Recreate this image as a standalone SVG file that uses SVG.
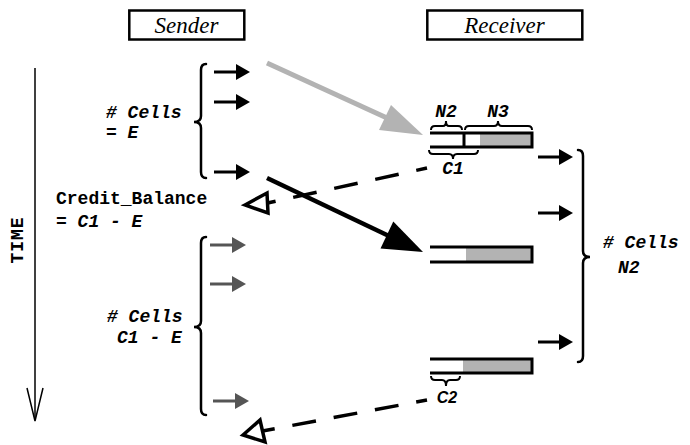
<svg xmlns="http://www.w3.org/2000/svg" width="690" height="445" viewBox="0 0 690 445">
<style>
.box{fill:#fff;stroke:#000;stroke-width:2.5}
.title{font-family:"Liberation Serif",serif;font-style:italic;font-size:23px;text-anchor:middle}
.lbl{font-family:"Liberation Mono",monospace;font-weight:bold;font-style:italic;font-size:18px}
.plain{font-family:"Liberation Mono",monospace;font-weight:bold;font-size:18px}
.brace{fill:none;stroke:#000;stroke-width:2.5;stroke-linecap:round}
.sbrace{fill:none;stroke:#000;stroke-width:2}
.cell{stroke:#000;stroke-width:3}
.gcell{stroke:#555;stroke-width:3}
.buf{fill:none;stroke:#000;stroke-width:3}
.fill{fill:#b3b3b3}
.dash{fill:none;stroke:#000;stroke-width:3.5;stroke-dasharray:24 18;stroke-dashoffset:13}
.tri{fill:#fff;stroke:#000;stroke-width:3.5;stroke-linejoin:miter}
</style>
<defs>
<marker id="ah" markerUnits="userSpaceOnUse" markerWidth="14" markerHeight="16" refX="0" refY="8" orient="auto"><path d="M0,0 L14,8 L0,16 Z" fill="#000"/></marker>
<marker id="ahg" markerUnits="userSpaceOnUse" markerWidth="14" markerHeight="16" refX="0" refY="8" orient="auto"><path d="M0,0 L14,8 L0,16 Z" fill="#555"/></marker>
</defs>

<g id="sender">
<rect class="box" x="129.3" y="10.5" width="115" height="29"/>
<text class="title" x="186.5" y="33">Sender</text>
</g>
<g id="receiver">
<rect class="box" x="427.3" y="10.5" width="155" height="29"/>
<text class="title" x="504.5" y="33">Receiver</text>
</g>

<g id="time-axis">
<line x1="35" y1="68" x2="35" y2="420" stroke="#000" stroke-width="1.5"/>
<polyline points="27,388 35,421 43,388" fill="none" stroke="#000" stroke-width="1.5"/>
<text class="plain" font-size="17" letter-spacing="1" text-anchor="middle" transform="translate(23,240) rotate(-90)">TIME</text>
</g>

<g id="sender-burst-1">
<path class="brace" d="M206 64 Q201 64 201 70 L201 116 Q201 122 194 122 Q201 122 201 128 L201 172 Q201 178 206 178"/>
<line class="cell" x1="214" y1="72" x2="236" y2="72" marker-end="url(#ah)"/>
<line class="cell" x1="214" y1="102" x2="236" y2="102" marker-end="url(#ah)"/>
<line class="cell" x1="214" y1="172" x2="236" y2="172" marker-end="url(#ah)"/>
<text class="lbl" x="106" y="118">#<tspan dx="10.8">Cells</tspan></text>
<text class="lbl" x="106" y="138">=<tspan dx="10.8">E</tspan></text>
</g>

<g id="credit-balance">
<text class="plain" x="56" y="204">Credit_Balance</text>
<text class="lbl" x="56" y="227">= C1 - E</text>
</g>

<g id="sender-burst-2">
<path class="brace" d="M206 237 Q201 237 201 243 L201 321 Q201 327 194 327 Q201 327 201 333 L201 409 Q201 415 206 415"/>
<line class="gcell" x1="210" y1="245" x2="232" y2="245" marker-end="url(#ahg)"/>
<line class="gcell" x1="210" y1="284" x2="232" y2="284" marker-end="url(#ahg)"/>
<line class="gcell" x1="213" y1="401" x2="235" y2="401" marker-end="url(#ahg)"/>
<text class="lbl" x="107" y="322">#<tspan dx="10.8">Cells</tspan></text>
<text class="lbl" x="117" y="343">C1 - E</text>
</g>

<g id="buffer-1">
<rect class="fill" x="480" y="133" width="52" height="14"/>
<path class="buf" d="M430 133 L532 133 L532 147 L430 147 M464 133 L464 147"/>
<path class="sbrace" d="M431 130 Q431 126 435 126 L443 126 Q446 126 446 121 Q446 126 449 126 L458 126 Q462 126 462 130"/>
<path class="sbrace" d="M465 130 Q465 126 469 126 L494 126 Q498 126 498 121 Q498 126 502 126 L528 126 Q532 126 532 130"/>
<path class="sbrace" d="M429 150 Q429 154 433 154 L449 154 Q453 154 453 159 Q453 154 457 154 L474 154 Q478 154 478 150"/>
<text class="lbl" x="446" y="117" text-anchor="middle">N2</text>
<text class="lbl" x="498" y="117" text-anchor="middle">N3</text>
<text class="lbl" x="453" y="174" text-anchor="middle">C1</text>
</g>

<g id="buffer-2">
<rect class="fill" x="466" y="247" width="66" height="15"/>
<path class="buf" d="M430 247 L532 247 L532 262 L430 262"/>
</g>

<g id="buffer-3">
<rect class="fill" x="463" y="359" width="69" height="14"/>
<path class="buf" d="M430 359 L532 359 L532 373 L430 373"/>
<path class="sbrace" d="M431 376 Q431 380 435 380 L442 380 Q446 380 446 386 Q446 380 450 380 L456 380 Q460 380 460 376"/>
<text x="447" y="403" text-anchor="middle" font-family="Liberation Sans,sans-serif" font-weight="bold" font-style="italic" font-size="16">C2</text>
</g>

<g id="receiver-burst">
<path class="brace" d="M578 150 Q583 150 583 156 L583 251 Q583 257 590 257 Q583 257 583 263 L583 356 Q583 362 578 362"/>
<line class="cell" x1="538" y1="157" x2="559" y2="157" marker-end="url(#ah)"/>
<line class="cell" x1="538" y1="213" x2="559" y2="213" marker-end="url(#ah)"/>
<line class="cell" x1="538" y1="342" x2="559" y2="342" marker-end="url(#ah)"/>
<text class="lbl" x="603" y="248">#<tspan dx="10.8">Cells</tspan></text>
<text class="lbl" x="618" y="273">N2</text>
</g>

<g id="connectors">
<line x1="267" y1="63" x2="387" y2="118" stroke="#b3b3b3" stroke-width="5"/>
<polygon points="423,135 379,130 391,105" fill="#b3b3b3"/>
<line x1="267" y1="178" x2="389" y2="236" stroke="#000" stroke-width="4.5"/>
<polygon points="423,252 380.5,248.4 393.3,221.4" fill="#000"/>
<line class="dash" x1="427" y1="168" x2="267.5" y2="203"/>
<polygon class="tri" points="245,205 267,193 268,213"/>
<line class="dash" x1="427" y1="400" x2="262.5" y2="431"/>
<polygon class="tri" points="243,435 260,420 265,442"/>
</g>
</svg>
